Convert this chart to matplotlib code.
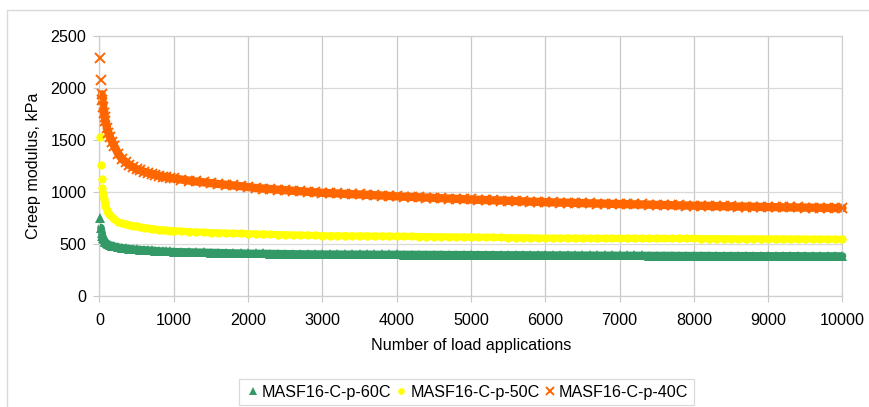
import matplotlib
matplotlib.use("Agg")
import matplotlib.pyplot as plt
from matplotlib.patches import Rectangle

plt.rcParams['font.family'] = ['Liberation Sans', 'DejaVu Sans']

cycles = [10, 20, 30, 40, 50, 60, 70, 80, 100, 120, 140, 170, 200, 250, 300, 350, 400, 450, 500,
          550, 600, 650, 700, 750, 800, 850, 900, 950, 1000,
          1100, 1200, 1300, 1400, 1500, 1600, 1700, 1800, 1900, 2000,
          2100, 2200, 2300, 2400, 2500, 2600, 2700, 2800, 2900, 3000,
          3100, 3200, 3300, 3400, 3500, 3600, 3700, 3800, 3900, 4000,
          4100, 4200, 4300, 4400, 4500, 4600, 4700, 4800, 4900, 5000,
          5100, 5200, 5300, 5400, 5500, 5600, 5700, 5800, 5900, 6000,
          6100, 6200, 6300, 6400, 6500, 6600, 6700, 6800, 6900, 7000,
          7100, 7200, 7300, 7400, 7500, 7600, 7700, 7800, 7900, 8000,
          8100, 8200, 8300, 8400, 8500, 8600, 8700, 8800, 8900, 9000,
          9100, 9200, 9300, 9400, 9500, 9600, 9700, 9800, 9900, 10000]

modulus_60C = [747, 657, 610, 580, 560, 545, 530, 516, 505, 497, 490, 484, 478, 470, 464, 459, 455, 451, 448,
               445, 443, 441, 438, 436, 433, 431, 429, 428, 426,
               424, 423, 421, 420, 418, 417, 415, 413, 412, 410,
               409, 409, 408, 407, 406, 405, 404, 404, 403, 402,
               402, 402, 401, 401, 401, 401, 400, 400, 400, 400,
               399, 399, 399, 398, 398, 398, 397, 397, 397, 397,
               396, 396, 396, 395, 395, 395, 395, 394, 394, 394,
               393, 393, 393, 392, 392, 392, 391, 391, 391, 390,
               390, 390, 390, 389, 389, 389, 389, 388, 388, 388,
               388, 388, 387, 387, 387, 387, 387, 386, 386, 386,
               386, 386, 386, 386, 385, 385, 385, 385, 385, 385]

modulus_50C = [1532, 1260, 1122, 1035, 980, 930, 895, 870, 830, 800, 780, 757, 740, 715, 700, 692, 684, 677, 670,
               664, 658, 652, 647, 642, 638, 635, 632, 629, 627,
               623, 619, 615, 612, 609, 607, 605, 603, 601, 599,
               597, 595, 593, 591, 589, 588, 586, 584, 582, 580,
               580, 579, 579, 578, 578, 577, 576, 576, 575, 574,
               574, 573, 572, 571, 570, 570, 569, 568, 568, 567,
               566, 565, 564, 563, 562, 561, 560, 559, 557, 556,
               556, 556, 556, 555, 555, 555, 555, 554, 554, 554,
               554, 554, 554, 553, 553, 553, 553, 553, 553, 553,
               552, 552, 552, 551, 551, 550, 550, 550, 549, 549,
               549, 548, 548, 548, 547, 547, 547, 546, 546, 546]

modulus_40C = [2290, 2075, 1940, 1880, 1820, 1760, 1720, 1680, 1620, 1570, 1530, 1484, 1440, 1370, 1320, 1290,
               1260, 1240, 1220, 1207, 1195, 1185, 1175, 1165, 1157, 1149, 1142, 1136, 1130,
               1120, 1110, 1101, 1093, 1085, 1077, 1070, 1063, 1056, 1048,
               1039, 1033, 1028, 1022, 1017, 1012, 1007, 1002, 997, 992,
               989, 986, 982, 979, 976, 973, 969, 966, 962, 958,
               955, 952, 949, 946, 943, 940, 937, 934, 931, 928,
               925, 923, 920, 918, 915, 913, 910, 907, 905, 902,
               900, 898, 897, 895, 893, 891, 889, 888, 886, 884,
               883, 881, 880, 878, 876, 875, 873, 871, 870, 868,
               867, 866, 864, 863, 862, 860, 859, 858, 856, 855,
               854, 853, 852, 851, 850, 849, 848, 847, 846, 845]

series_names = ['MASF16-C-p-60C', 'MASF16-C-p-50C', 'MASF16-C-p-40C']
x_ticks = [0, 1000, 2000, 3000, 4000, 5000, 6000, 7000, 8000, 9000, 10000]
y_ticks = [0, 500, 1000, 1500, 2000, 2500]

GREEN, YELLOW, ORANGE = '#339966', '#ffff00', '#ff6600'
FS = 11.6

fig = plt.figure(figsize=(8.70, 4.07), dpi=100)
ax = fig.add_axes([99.5 / 870, 1 - 296 / 407, (842.5 - 99.5) / 870, (296 - 36) / 407])

# dense measurement points appear as a continuous band: draw the band through the data
ax.plot(cycles[1:], modulus_60C[1:], color=GREEN, lw=5.5, solid_capstyle='round', clip_on=False, zorder=2)
ax.plot(cycles[3:], modulus_50C[3:], color=YELLOW, lw=5.0, solid_capstyle='round', clip_on=False, zorder=2)
ax.plot(cycles[2:], modulus_40C[2:], color=ORANGE, lw=6.0, solid_capstyle='round', clip_on=False, zorder=2)

ax.plot(cycles, modulus_60C, linestyle='none', marker='^', markersize=6.5,
        color=GREEN, markeredgewidth=0, label=series_names[0], clip_on=False, zorder=3)
ax.plot(cycles, modulus_50C, linestyle='none', marker='o', markersize=6.0,
        color=YELLOW, markeredgewidth=0, label=series_names[1], clip_on=False, zorder=3)
ax.plot(cycles, modulus_40C, linestyle='none', marker='x', markersize=6.5,
        color=ORANGE, markeredgewidth=1.4, label=series_names[2], clip_on=False, zorder=3)

ax.set_xlim(0, 10000)
ax.set_ylim(0, 2500)
ax.set_xticks(x_ticks)
ax.set_yticks(y_ticks)
ax.tick_params(axis='both', labelsize=FS, colors='#c8c8c8', labelcolor='black', length=4, width=0.8)
ax.tick_params(axis='x', pad=8.2)
ax.tick_params(axis='y', pad=5.5)
ax.grid(True, axis='y', color='#d9d9d9', linewidth=0.9)
ax.grid(True, axis='x', color='#c8c8c8', linewidth=0.9)
ax.set_axisbelow(True)
for s in ax.spines.values():
    s.set_color('#cfcfcf')
    s.set_linewidth(0.9)

ax.set_xlabel('Number of load applications', fontsize=FS, va='top')
ax.xaxis.set_label_coords(0.5, -0.163)
ax.set_ylabel('Creep modulus, kPa', fontsize=FS)
ax.yaxis.set_label_coords(-0.0785, 0.5)

leg = fig.legend(loc='center', bbox_to_anchor=(0.536, 0.036), ncol=3, fontsize=FS,
                 frameon=True, fancybox=False, edgecolor='#d0d0d0', handletextpad=0.05,
                 columnspacing=0.15, handlelength=1.0, borderpad=0.35, markerscale=0.8)
leg.get_frame().set_linewidth(0.9)

fig.patches.append(Rectangle((7 / 870, -0.1), 1.1, 0.1 + (1 - 10 / 407), transform=fig.transFigure,
                             fill=False, edgecolor='#d9d9d9', linewidth=1.0))

fig.savefig('out.png', dpi=100)
